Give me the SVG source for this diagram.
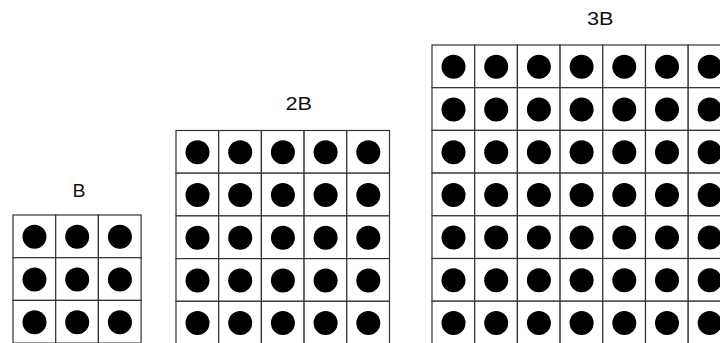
<svg xmlns="http://www.w3.org/2000/svg" xmlns:xlink="http://www.w3.org/1999/xlink" width="720" height="343" viewBox="0 0 720 343">
<style>
.lbl{font-family:"Liberation Sans","DejaVu Sans",sans-serif;font-size:17.5px;fill:#111}
.c rect{fill:#fff;stroke:#333;stroke-width:1.2}
.c circle{fill:#000}
</style>
<defs>
<g id="cell" class="c"><rect x="0" y="0" width="42.7" height="42.7"/><circle cx="21.5" cy="21.8" r="12"/></g>
<g id="row3"><use xlink:href="#cell"/><use xlink:href="#cell" x="42.7"/><use xlink:href="#cell" x="85.4"/></g>
<g id="row5"><use xlink:href="#row3"/><use xlink:href="#cell" x="128.1"/><use xlink:href="#cell" x="170.8"/></g>
<g id="row7"><use xlink:href="#row5"/><use xlink:href="#cell" x="213.5"/><use xlink:href="#cell" x="256.2"/></g>
</defs>
<rect width="720" height="343" fill="#fff"/>
<g id="grid-B" transform="translate(13,215)">
<use xlink:href="#row3"/><use xlink:href="#row3" y="42.7"/><use xlink:href="#row3" y="85.4"/>
</g>
<text id="label-B" class="lbl" x="72.5" y="197" textLength="13" lengthAdjust="spacingAndGlyphs">B</text>
<g id="grid-2B" transform="translate(176,130.5)">
<use xlink:href="#row5"/><use xlink:href="#row5" y="42.7"/><use xlink:href="#row5" y="85.4"/><use xlink:href="#row5" y="128.1"/><use xlink:href="#row5" y="170.8"/>
</g>
<text id="label-2B" class="lbl" x="285.5" y="110" textLength="26.5" lengthAdjust="spacingAndGlyphs">2B</text>
<g id="grid-3B" transform="translate(432,45)">
<use xlink:href="#row7"/><use xlink:href="#row7" y="42.7"/><use xlink:href="#row7" y="85.4"/><use xlink:href="#row7" y="128.1"/><use xlink:href="#row7" y="170.8"/><use xlink:href="#row7" y="213.5"/><use xlink:href="#row7" y="256.2"/>
</g>
<text id="label-3B" class="lbl" x="587" y="25" textLength="26.5" lengthAdjust="spacingAndGlyphs">3B</text>
</svg>
